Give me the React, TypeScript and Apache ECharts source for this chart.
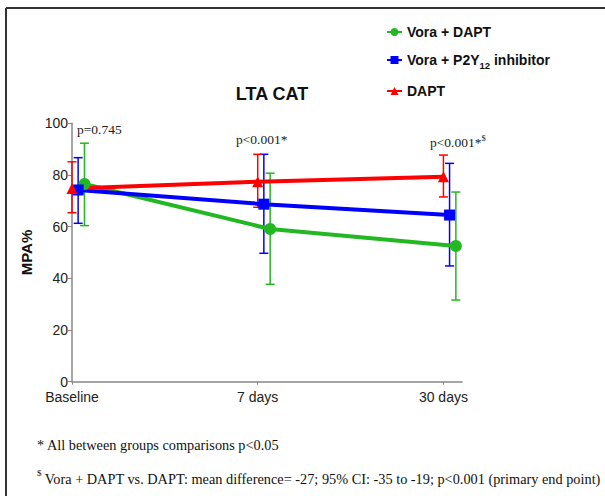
import React, { useEffect, useRef } from "react";
import * as echarts from "echarts";

const categories = ["Baseline", "7 days", "30 days"];
const seriesNames = ["Vora + DAPT", "Vora + P2Y12 inhibitor", "DAPT"];

const voraDaptMean = [76.5, 59.1, 52.5];
const voraDaptLow = [60.4, 37.7, 31.6];
const voraDaptHigh = [92.3, 80.7, 73.4];

const voraP2yMean = [74.2, 68.7, 64.5];
const voraP2yLow = [61.3, 49.7, 44.8];
const voraP2yHigh = [86.7, 88.0, 84.5];

const daptMean = [74.8, 77.4, 79.3];
const daptLow = [65.4, 67.5, 71.5];
const daptHigh = [85.1, 88.0, 87.7];

const yTicks = [0, 20, 40, 60, 80, 100];
const pValues = ["p=0.745", "p<0.001*", "p<0.001*"];

const SANS = "'Liberation Sans', Arial, Helvetica, sans-serif";
const SERIF = "'Liberation Serif', 'Times New Roman', serif";

const groups = [
  { name: seriesNames[0], mean: voraDaptMean, low: voraDaptLow, high: voraDaptHigh, color: "#22b822", symbol: "circle", size: 12, dodge: 0.067 },
  { name: seriesNames[1], mean: voraP2yMean, low: voraP2yLow, high: voraP2yHigh, color: "#0000ff", symbol: "rect", size: 11, dodge: 0.033 },
  { name: seriesNames[2], mean: daptMean, low: daptLow, high: daptHigh, color: "#ff0000", symbol: "triangle", size: 11, dodge: 0 },
];

export default function App() {
  const ref = useRef<HTMLDivElement>(null);

  useEffect(() => {
    if (!ref.current) return;
    const chart = echarts.init(ref.current, undefined, { renderer: "svg" });

    const errorSeries = groups.map((g) => ({
      type: "custom",
      name: g.name + " error",
      z: 1,
      data: g.mean.map((_, i) => [i + g.dodge, g.low[i], g.high[i]]),
      encode: { x: 0, y: [1, 2] },
      renderItem: (params: any, api: any) => {
        const x = api.value(0);
        const lo = api.coord([x, api.value(1)]);
        const hi = api.coord([x, api.value(2)]);
        const cap = 4.5;
        const style = { stroke: g.color, lineWidth: 1.5 };
        return {
          type: "group",
          children: [
            { type: "line", shape: { x1: lo[0], y1: lo[1], x2: hi[0], y2: hi[1] }, style },
            { type: "line", shape: { x1: lo[0] - cap, y1: lo[1], x2: lo[0] + cap, y2: lo[1] }, style },
            { type: "line", shape: { x1: hi[0] - cap, y1: hi[1], x2: hi[0] + cap, y2: hi[1] }, style },
          ],
        };
      },
    }));

    const lineSeries = groups.map((g) => ({
      type: "line",
      name: g.name,
      z: 3,
      data: g.mean.map((v, i) => [i + g.dodge, v]),
      symbol: g.symbol,
      symbolSize: g.size,
      showSymbol: true,
      itemStyle: { color: g.color },
      lineStyle: { color: g.color, width: 4 },
    }));

    chart.setOption({
      animation: false,
      backgroundColor: "#ffffff",
      title: {
        text: "LTA CAT",
        left: 267,
        top: 80,
        textAlign: "center",
        textStyle: { fontFamily: SANS, fontWeight: "bold", fontSize: 18, color: "#111" },
      },
      legend: {
        orient: "vertical",
        left: 381,
        top: 20,
        itemWidth: 15,
        itemHeight: 10,
        itemGap: 14,
        data: seriesNames,
        formatter: (name: string) =>
          name === seriesNames[1] ? "{a|Vora + P2Y}{s|12}{a| inhibitor}" : "{a|" + name + "}",
        textStyle: {
          rich: {
            a: { fontFamily: SANS, fontWeight: "bold", fontSize: 14, color: "#111", lineHeight: 20, verticalAlign: "middle" },
            s: { fontFamily: SANS, fontWeight: "bold", fontSize: 9.5, color: "#111", lineHeight: 9, verticalAlign: "bottom" },
          },
        },
      },
      grid: { left: 72, right: 143, top: 123.3, bottom: 114.3, containLabel: false },
      xAxis: {
        type: "value",
        min: 0,
        max: 2.1,
        splitLine: { show: false },
        axisLine: { lineStyle: { color: "#888", width: 1.5 } },
        axisTick: { show: true, customValues: [0, 1, 2], length: 3, lineStyle: { color: "#888" } },
        axisLabel: {
          customValues: [0, 1, 2],
          formatter: (v: number) => categories[Math.round(v)] ?? "",
          fontFamily: SANS,
          fontSize: 14,
          color: "#222",
          margin: 8,
        },
      },
      yAxis: {
        type: "value",
        min: yTicks[0],
        max: yTicks[yTicks.length - 1],
        interval: 20,
        name: "MPA%",
        nameLocation: "middle",
        nameRotate: 90,
        nameGap: 35,
        nameTextStyle: { fontFamily: SANS, fontWeight: "bold", fontSize: 15, color: "#111" },
        splitLine: { show: false },
        axisLine: { show: true, lineStyle: { color: "#888", width: 1.5 } },
        axisTick: { show: true, length: 4, lineStyle: { color: "#888" } },
        axisLabel: { fontFamily: SANS, fontSize: 14, color: "#222", margin: 4 },
      },
      graphic: [
        { type: "line", shape: { x1: 6, y1: 8, x2: 605, y2: 8 }, style: { stroke: "#333", lineWidth: 2 } },
        { type: "line", shape: { x1: 6, y1: 8, x2: 6, y2: 496 }, style: { stroke: "#333", lineWidth: 2 } },
        {
          type: "text", x: 77, y: 129,
          style: { text: pValues[0], font: `13.5px ${SERIF}`, fill: "#222", align: "left", verticalAlign: "middle" },
        },
        {
          type: "text", x: 236, y: 139,
          style: { text: pValues[1], font: `13.5px ${SERIF}`, fill: "#222", align: "left", verticalAlign: "middle" },
        },
        {
          type: "text", x: 430, y: 141,
          style: {
            text: "{m|" + pValues[2] + "}{s|$}",
            fill: "#222", align: "left", verticalAlign: "middle",
            rich: {
              m: { fontFamily: SERIF, fontSize: 13.5, lineHeight: 16, verticalAlign: "bottom", fill: "#222" },
              s: { fontFamily: SERIF, fontSize: 8.5, lineHeight: 16, verticalAlign: "top", fill: "#222" },
            },
          },
        },
        {
          type: "text", x: 37, y: 445,
          style: { text: "* All between groups comparisons p<0.05", font: `14.3px ${SERIF}`, fill: "#111", align: "left", verticalAlign: "middle" },
        },
        {
          type: "text", x: 37, y: 477,
          style: {
            text: "{s|$} {m|Vora + DAPT vs. DAPT: mean difference= -27; 95% CI: -35 to -19; p<0.001 (primary end point)}",
            fill: "#111", align: "left", verticalAlign: "middle",
            rich: {
              m: { fontFamily: SERIF, fontSize: 14.3, lineHeight: 18, verticalAlign: "bottom", fill: "#111" },
              s: { fontFamily: SERIF, fontSize: 9, lineHeight: 18, verticalAlign: "top", fill: "#111" },
            },
          },
        },
      ],
      series: [...errorSeries, ...lineSeries],
    });

    return () => chart.dispose();
  }, []);

  return (
    <div
      ref={ref}
      style={{ position: "absolute", left: 0, top: 0, width: 605, height: 496, background: "#fff" }}
    />
  );
}
